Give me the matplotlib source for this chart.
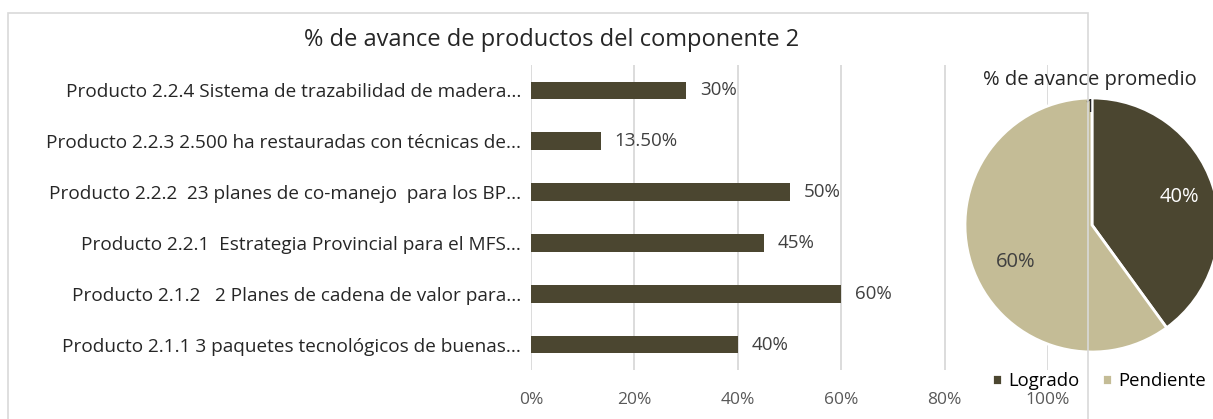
import matplotlib.pyplot as plt
from matplotlib.patches import Rectangle

plt.rcParams['font.family'] = ['Open Sans', 'DejaVu Sans']

# ---- data ----
productos = [
    "Producto 2.1.1 3 paquetes tecnológicos de buenas...",
    "Producto 2.1.2   2 Planes de cadena de valor para...",
    "Producto 2.2.1  Estrategia Provincial para el MFS...",
    "Producto 2.2.2  23 planes de co-manejo  para los BP...",
    "Producto 2.2.3 2.500 ha restauradas con técnicas de...",
    "Producto 2.2.4 Sistema de trazabilidad de madera...",
]
avance = [0.40, 0.60, 0.45, 0.50, 0.135, 0.30]
avance_txt = ["40%", "60%", "45%", "50%", "13.50%", "30%"]
x_ticks = [0, 0.2, 0.4, 0.6, 0.8, 1.0]
x_ticklabels = ["0%", "20%", "40%", "60%", "80%", "100%"]

pie_labels = ["Logrado", "Pendiente"]
pie_values = [40, 60]

dark = "#4b4630"
light = "#c4bc96"
grid = "#d9d9d9"

W, H = 1213, 419
fig = plt.figure(figsize=(W / 100, H / 100), dpi=100)

# outer frame of the bar chart
fig.add_artist(Rectangle((8 / W, -0.05), (1088 - 8) / W, 1.05 - 13 / H,
                         transform=fig.transFigure, fill=False,
                         edgecolor=grid, linewidth=1.2))

# ---- bar chart ----
ax = fig.add_axes([531 / W, 1 - 370 / H, (1048 - 531) / W, (370 - 65) / H])
y = range(len(productos))
ax.barh(y, avance, height=0.35, color=dark, zorder=3)
for yi, v, t in zip(y, avance, avance_txt):
    ax.annotate(t, (v, yi), xytext=(10, 0), textcoords="offset points",
                va="center", ha="left", fontsize=13.5, color="#404040")
ax.set_xlim(0, 1.0)
ax.set_ylim(-0.5, len(productos) - 0.5)
ax.set_xticks(x_ticks)
ax.set_xticklabels(x_ticklabels, fontsize=12.5, color="#595959")
ax.set_yticks(list(y))
ax.set_yticklabels(productos, fontsize=13.7, color="#262626")
ax.tick_params(axis="x", length=0, pad=16)
ax.tick_params(axis="y", length=0, pad=7)
ax.grid(axis="x", color=grid, linewidth=1.3, zorder=0)
for s in ax.spines.values():
    s.set_visible(False)
ax.patch.set_alpha(0)
fig.text(552 / W, 1 - 40 / H, "% de avance de productos del componente 2",
         ha="center", va="center", fontsize=17, color="#262626")

# ---- pie chart ----
r = 127
ax2 = fig.add_axes([(1092 - r) / W, 1 - (225 + r) / H, 2 * r / W, 2 * r / H])
wedges, _ = ax2.pie(pie_values, colors=[dark, light], startangle=90,
                    counterclock=False, radius=1,
                    wedgeprops=dict(edgecolor="white", linewidth=2))
ax2.text(0.69, 0.22, "40%", ha="center", va="center", fontsize=14.5, color="white")
ax2.text(-0.6, -0.29, "60%", ha="center", va="center", fontsize=14.5, color="#404040")
ax2.text(-0.02, 0.93, "1", ha="center", va="center", fontsize=13, color="#262626")
ax2.set_xlim(-1, 1)
ax2.set_ylim(-1, 1)
ax2.axis("off")
fig.text(1090 / W, 1 - 80 / H, "% de avance promedio", ha="center", va="center",
         fontsize=14.5, color="#262626")
fig.legend(wedges, pie_labels, loc="center", bbox_to_anchor=(1099 / W, 1 - 381 / H),
           ncol=2, frameon=False, fontsize=13.3, handlelength=0.55, handleheight=0.55,
           handletextpad=0.35, columnspacing=1.2, borderpad=0)

fig.savefig("out.png", dpi=100)
